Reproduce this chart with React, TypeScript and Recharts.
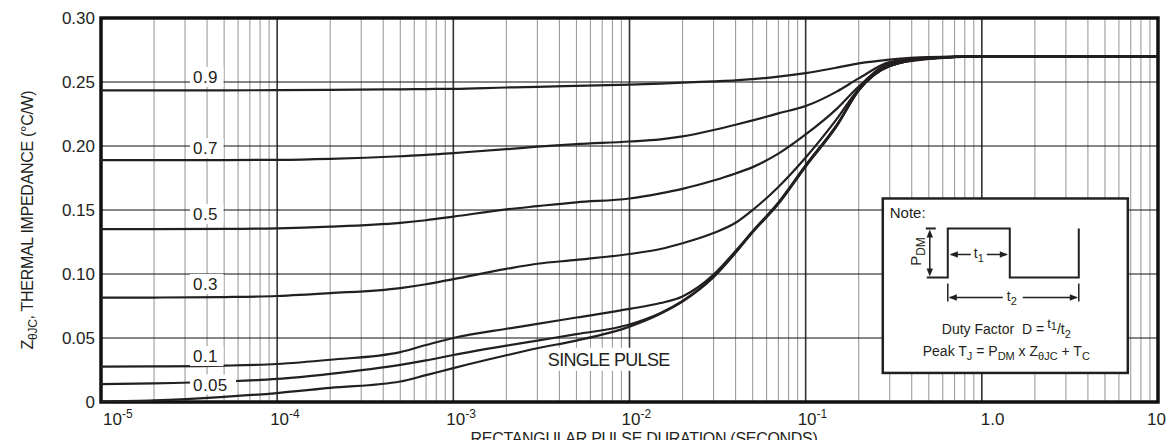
import React from "react";
import {
  LineChart,
  Line,
  XAxis,
  YAxis,
  CartesianGrid,
  ReferenceDot,
  ReferenceArea,
} from "recharts";

// pulse durations (seconds) sampled along every curve
const durations = [
  1e-5, 2e-5, 5e-5, 1e-4, 2e-4, 5e-4, 7e-4, 1e-3, 2e-3, 3e-3, 5e-3, 1e-2, 1.5e-2,
  2e-2, 3e-2, 4e-2, 5e-2, 7e-2, 1e-1, 1.5e-1, 2e-1, 3e-1, 5e-1, 1, 2, 5, 10,
];

// Z thetaJC (C/W) per duty factor
const duty09 = [
  0.2435, 0.2435, 0.2435, 0.2436, 0.2438, 0.2443, 0.2445, 0.2447, 0.2457, 0.2462,
  0.247, 0.248, 0.2488, 0.2495, 0.2505, 0.2513, 0.2522, 0.2542, 0.257, 0.2612,
  0.2645, 0.2675, 0.2695, 0.27, 0.27, 0.27, 0.27,
];
const duty07 = [
  0.189, 0.189, 0.189, 0.1892, 0.19, 0.192, 0.193, 0.1945, 0.1975, 0.1995, 0.2015,
  0.2035, 0.2052, 0.2075, 0.2125, 0.2166, 0.22, 0.2255, 0.2312, 0.2425, 0.2528,
  0.2655, 0.269, 0.27, 0.27, 0.27, 0.27,
];
const duty05 = [
  0.135, 0.135, 0.1352, 0.1357, 0.137, 0.14, 0.142, 0.1448, 0.1505, 0.153, 0.156,
  0.159, 0.163, 0.1665, 0.173, 0.1785, 0.1835, 0.194, 0.209, 0.229, 0.2465, 0.2645,
  0.2685, 0.27, 0.27, 0.27, 0.27,
];
const duty03 = [
  0.0815, 0.0816, 0.082, 0.0828, 0.085, 0.089, 0.092, 0.096, 0.104, 0.108, 0.111,
  0.1156, 0.1195, 0.124, 0.132, 0.14, 0.15, 0.168, 0.191, 0.221, 0.2445, 0.263,
  0.268, 0.27, 0.27, 0.27, 0.27,
];
const duty01 = [
  0.0276, 0.0278, 0.0284, 0.0297, 0.033, 0.039, 0.0445, 0.05, 0.0572, 0.061,
  0.066, 0.0727, 0.0773, 0.0825, 0.0995, 0.118, 0.1335, 0.156, 0.185, 0.2165,
  0.2435, 0.2625, 0.2685, 0.27, 0.27, 0.27, 0.27,
];
const duty005 = [
  0.014, 0.0145, 0.016, 0.018, 0.022, 0.029, 0.0325, 0.0367, 0.044, 0.048, 0.053,
  0.0605, 0.0695, 0.079, 0.098, 0.117, 0.133, 0.155, 0.1842, 0.2158, 0.2435,
  0.2625, 0.2685, 0.27, 0.27, 0.27, 0.27,
];
const singlePulse = [
  0.0004, 0.0012, 0.004, 0.007, 0.011, 0.016, 0.021, 0.0265, 0.0365, 0.042,
  0.048, 0.0589, 0.069, 0.0785, 0.0975, 0.1165, 0.1325, 0.1548, 0.184, 0.2155,
  0.2435, 0.2625, 0.2685, 0.27, 0.27, 0.27, 0.27,
];

const series = [duty09, duty07, duty05, duty03, duty01, duty005, singlePulse];

const curveLabels = ["0.9", "0.7", "0.5", "0.3", "0.1", "0.05"];
const curveLabelZ = [0.254, 0.1984, 0.1469, 0.0922, 0.0359, 0.0137];
const curveLabelT = 3.33e-5;

const decadeTicks = [1e-5, 1e-4, 1e-3, 1e-2, 1e-1, 1, 10];
const xTickBase = ["10", "10", "10", "10", "10", "1.0", "10"];
const xTickExp = ["-5", "-4", "-3", "-2", "-1", "", ""];
const xTickShift = [2, -7, -7, -8, -8, -1, -11];

const yTicks = [0, 0.05, 0.1, 0.15, 0.2, 0.25, 0.3];
const yTickLabels = ["0", "0.05", "0.10", "0.15", "0.20", "0.25", "0.30"];

const minorTicks: number[] = [];
for (let d = -5; d < 1; d++) {
  for (let m = 2; m <= 9; m++) minorTicks.push(m * Math.pow(10, d));
}

const rows = durations.map((t, i) => {
  const r: Record<string, number> = { t };
  series.forEach((s, k) => (r["s" + k] = s[i]));
  return r;
});

const FONT = "'Liberation Sans', Arial, Helvetica, sans-serif";
const INK = "#231f20";

// vertical grid positions through the x axis scale (log fallback if absent)
const gridAt = (vals: number[]) => (args: any) => {
  const { xAxis, offset } = args;
  return vals.map((v) => {
    const s = xAxis && typeof xAxis.scale === "function" ? xAxis.scale(v) : NaN;
    if (Number.isFinite(s)) return s;
    return offset.left + (offset.width * (Math.log10(v) + 5)) / 6;
  });
};

function XTick(props: any) {
  const { x, y, payload } = props;
  const i = decadeTicks.findIndex(
    (v) => Math.abs(Math.log10(v) - Math.log10(payload.value)) < 1e-6
  );
  if (i < 0) return null;
  return (
    <text x={x + xTickShift[i]} y={y + 23} fontSize={17} fill={INK} fontFamily={FONT}>
      {xTickBase[i]}
      {xTickExp[i] && (
        <tspan dy={-7} fontSize={12}>
          {xTickExp[i]}
        </tspan>
      )}
    </text>
  );
}

function YTick(props: any) {
  const { x, y, payload } = props;
  const i = yTicks.findIndex((v) => Math.abs(v - payload.value) < 1e-9);
  return (
    <text x={x} y={y} dy="0.36em" textAnchor="end" fontSize={17} fill={INK} fontFamily={FONT}>
      {yTickLabels[i]}
    </text>
  );
}

function YTitle(props: any) {
  const vb = props.viewBox;
  const cx = 27;
  const cy = vb.y + vb.height / 2 + 10;
  return (
    <text
      x={cx}
      y={cy}
      transform={`rotate(-90, ${cx}, ${cy})`}
      textAnchor="middle"
      dy="0.36em"
      fontSize={16}
      fill={INK}
      fontFamily={FONT}
      letterSpacing={-0.3}
    >
      Z
      <tspan dy={4} fontSize={12}>
        θJC
      </tspan>
      <tspan dy={-4}>, THERMAL IMPEDANCE (°C/W)</tspan>
    </text>
  );
}

function XTitle() {
  return (
    <text x={644} y={444} textAnchor="middle" fontSize={16} fill={INK} fontFamily={FONT} letterSpacing={-0.3}>
      RECTANGULAR PULSE DURATION (SECONDS)
    </text>
  );
}

function CurveTag(props: any) {
  const { cx, cy, text, size = 17, spacing = 0.4 } = props;
  const w = text.length * size * 0.5 + 8 + (text === "0.05" ? 4 : 0);
  return (
    <g>
      <rect x={cx - 3} y={cy - 10} width={w} height={20} fill="#fff" />
      <text x={cx} y={cy} dy="0.36em" fontSize={size} fill={INK} fontFamily={FONT} letterSpacing={spacing}>
        {text}
      </text>
    </g>
  );
}

function PulseTag(props: any) {
  const { cx, cy } = props;
  return (
    <g>
      <rect x={cx - 2} y={cy - 12} width={134} height={23} fill="#fff" />
      <text x={cx} y={cy} dy="0.36em" fontSize={18} fill={INK} fontFamily={FONT} letterSpacing={-0.7}>
        SINGLE PULSE
      </text>
    </g>
  );
}

function arrowHead(px: number, py: number, dir: "l" | "r" | "u" | "d") {
  const L = 8;
  const W = 3.2;
  let pts = "";
  if (dir === "l") pts = `${px},${py} ${px + L},${py - W} ${px + L},${py + W}`;
  if (dir === "r") pts = `${px},${py} ${px - L},${py - W} ${px - L},${py + W}`;
  if (dir === "u") pts = `${px},${py} ${px - W},${py + L} ${px + W},${py + L}`;
  if (dir === "d") pts = `${px},${py} ${px - W},${py - L} ${px + W},${py - L}`;
  return <polygon points={pts} fill={INK} />;
}

function NoteBox(props: any) {
  const { x, y, width, height } = props;
  const hi = y + 30;
  const lo = y + 79;
  const a = x + 65;
  const b = x + 127;
  const c = x + 196;
  const pv = x + 47;
  const t1y = y + 56;
  const t2y = y + 99;
  const mid = x + width / 2 + 1;
  return (
    <g fontFamily={FONT}>
      <rect x={x} y={y} width={width} height={height} fill="#fff" stroke={INK} strokeWidth={2.5} />
      <text x={x + 7} y={y + 20} fontSize={15} fill={INK}>
        Note:
      </text>
      <polyline
        points={`${x + 44},${lo} ${a},${lo} ${a},${hi} ${b},${hi} ${b},${lo} ${c},${lo} ${c},${hi}`}
        fill="none"
        stroke={INK}
        strokeWidth={2}
      />
      <line x1={x + 43} y1={hi} x2={x + 53} y2={hi} stroke={INK} strokeWidth={2} />
      <line x1={pv} y1={hi + 4} x2={pv} y2={lo - 4} stroke={INK} strokeWidth={1.5} />
      {arrowHead(pv, hi + 1, "u")}
      {arrowHead(pv, lo - 1, "d")}
      <text
        x={x + 38}
        y={y + 53}
        transform={`rotate(-90, ${x + 38}, ${y + 53})`}
        textAnchor="middle"
        fontSize={15}
        fill={INK}
      >
        P
        <tspan dy={4} fontSize={12}>
          DM
        </tspan>
      </text>
      <line x1={a + 3} y1={t1y} x2={x + 88} y2={t1y} stroke={INK} strokeWidth={1.5} />
      <line x1={x + 104} y1={t1y} x2={b - 3} y2={t1y} stroke={INK} strokeWidth={1.5} />
      {arrowHead(a + 2, t1y, "l")}
      {arrowHead(b - 2, t1y, "r")}
      <text x={x + 91} y={t1y + 4} fontSize={14} fill={INK}>
        t
        <tspan dy={4} fontSize={11}>
          1
        </tspan>
      </text>
      <line x1={a} y1={y + 85} x2={a} y2={y + 103} stroke={INK} strokeWidth={1.5} />
      <line x1={c} y1={y + 85} x2={c} y2={y + 103} stroke={INK} strokeWidth={1.5} />
      <line x1={a + 2} y1={t2y} x2={x + 120} y2={t2y} stroke={INK} strokeWidth={1.5} />
      <line x1={x + 140} y1={t2y} x2={c - 2} y2={t2y} stroke={INK} strokeWidth={1.5} />
      {arrowHead(a + 1, t2y, "l")}
      {arrowHead(c - 1, t2y, "r")}
      <text x={x + 124} y={t2y + 4} fontSize={14} fill={INK}>
        t
        <tspan dy={4} fontSize={11}>
          2
        </tspan>
      </text>
      <text x={mid} y={y + 136} textAnchor="middle" fontSize={14} fill={INK}>
        Duty Factor{"\u00a0\u00a0"}D =
        <tspan dx={3} dy={-6} fontSize={13}>
          t
        </tspan>
        <tspan dy={2} fontSize={11}>
          1
        </tspan>
        <tspan dy={4} fontSize={14}>
          /t
        </tspan>
        <tspan dy={4} fontSize={11}>
          2
        </tspan>
      </text>
      <text x={mid} y={y + 158} textAnchor="middle" fontSize={14} fill={INK}>
        Peak T
        <tspan dy={4} fontSize={11}>
          J
        </tspan>
        <tspan dy={-4}> = P</tspan>
        <tspan dy={4} fontSize={11}>
          DM
        </tspan>
        <tspan dy={-4}> x Z</tspan>
        <tspan dy={4} fontSize={11}>
          θJC
        </tspan>
        <tspan dy={-4}> + T</tspan>
        <tspan dy={4} fontSize={11}>
          C
        </tspan>
      </text>
    </g>
  );
}

export default function App() {
  return (
    <div style={{ position: "absolute", left: 0, top: 0, width: 1169, height: 440, background: "#fff" }}>
      <LineChart
        width={1169}
        height={440}
        data={rows}
        margin={{ top: 18, right: 11, bottom: 0, left: 0 }}
      >
        <CartesianGrid
          horizontal={false}
          verticalCoordinatesGenerator={gridAt(minorTicks)}
          stroke="#9c9c9c"
          strokeWidth={1.1}
        />
        <CartesianGrid
          horizontal={false}
          verticalCoordinatesGenerator={gridAt(decadeTicks)}
          stroke="#333"
          strokeWidth={1.6}
        />
        <CartesianGrid vertical={false} stroke="#111" strokeWidth={1.2} />
        <XAxis
          dataKey="t"
          type="number"
          scale="log"
          domain={[1e-5, 10]}
          ticks={decadeTicks}
          allowDataOverflow
          axisLine={false}
          tickLine={false}
          tickSize={0}
          tickMargin={0}
          height={38}
          tick={<XTick />}
          interval={0}
          label={{ content: <XTitle /> }}
        />
        <YAxis
          type="number"
          domain={[0, 0.3]}
          ticks={yTicks}
          allowDataOverflow
          axisLine={false}
          tickLine={false}
          tickSize={0}
          tickMargin={6}
          width={101}
          tick={<YTick />}
          interval={0}
          label={{ content: <YTitle /> }}
        />
        {series.map((_, k) => (
          <Line
            key={k}
            dataKey={"s" + k}
            type="monotone"
            stroke={INK}
            strokeWidth={2.2}
            dot={false}
            activeDot={false}
            isAnimationActive={false}
          />
        ))}
        {curveLabels.map((lab, i) => (
          <ReferenceDot
            key={lab}
            x={curveLabelT}
            y={curveLabelZ[i]}
            r={1}
            shape={(p: any) => <CurveTag {...p} text={lab} />}
          />
        ))}
        <ReferenceDot x={3.44e-3} y={0.033} r={1} shape={(p: any) => <PulseTag {...p} />} />
        <ReferenceArea
          x1={0.274}
          x2={6.74}
          y1={0.0227}
          y2={0.159}
          ifOverflow="visible"
          shape={(p: any) => <NoteBox {...p} />}
        />
        <ReferenceArea
          x1={1e-5}
          x2={10}
          y1={0}
          y2={0.3}
          ifOverflow="visible"
          fill="none"
          fillOpacity={0}
          stroke="#111"
          strokeWidth={3.5}
        />
      </LineChart>
    </div>
  );
}
